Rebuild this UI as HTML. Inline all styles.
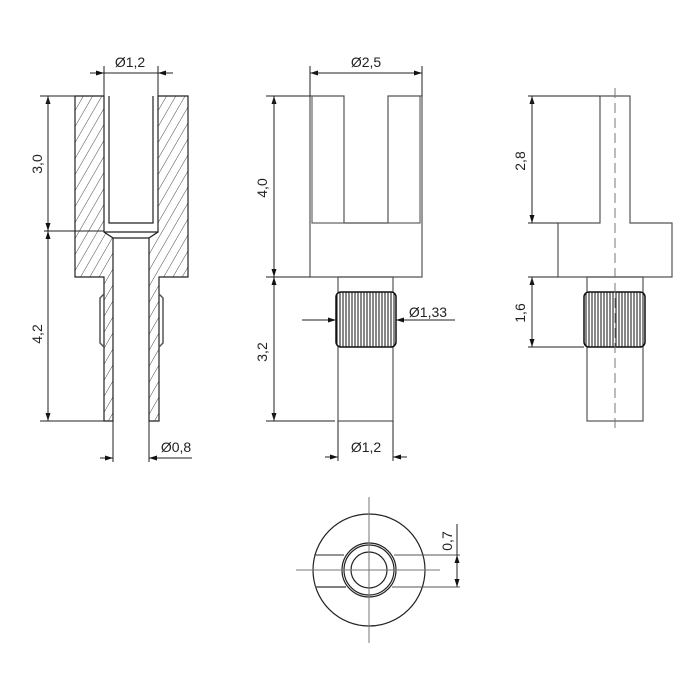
<!DOCTYPE html>
<html><head><style>html,body{margin:0;padding:0;background:#fff}svg{display:block}</style></head>
<body>
<svg width="700" height="700" viewBox="0 0 700 700" xmlns="http://www.w3.org/2000/svg" font-family="Liberation Sans, sans-serif" font-size="14" fill="none" stroke="#222" stroke-width="1.2">
<defs>
<pattern id="h" width="8" height="8" patternUnits="userSpaceOnUse" patternTransform="rotate(30)">
<line x1="0" y1="0" x2="0" y2="8" stroke="#333" stroke-width="0.9"/>
</pattern>
<pattern id="k" width="3" height="10" patternUnits="userSpaceOnUse">
<rect width="3" height="10" fill="#fff" stroke="none"/>
<line x1="1" y1="0" x2="1" y2="10" stroke="#111" stroke-width="1"/>
</pattern>
<marker id="a" viewBox="0 0 8 6" refX="8" refY="3" markerWidth="8" markerHeight="6" orient="auto" markerUnits="userSpaceOnUse"><path d="M0,0.5 L8,3 L0,5.5z" fill="#111" stroke="none"/></marker>
</defs>

<!-- LEFT VIEW (section) -->
<path d="M75,96 L104,96 L104,232 L113,238 L113,421 L104,421 L104,277 L75,277Z" fill="url(#h)"/>
<path d="M158,96 L188,96 L188,277 L159,277 L159,421 L149,421 L149,238 L158,232Z" fill="url(#h)"/>
<path d="M109,96 L109,223 L153,223 L153,96"/>
<line x1="104" y1="232" x2="158" y2="232"/>
<line x1="113" y1="238" x2="149" y2="238"/>
<path d="M104,294 L100,298 L100,343 L104,347" stroke="#555" stroke-width="1.5"/>
<path d="M159,294 L163,298 L163,343 L159,347" stroke="#555" stroke-width="1.5"/>
<line x1="40" y1="96" x2="75" y2="96" stroke-width="1"/>
<line x1="40" y1="421" x2="104" y2="421" stroke-width="1"/>
<line x1="44" y1="231" x2="104" y2="231" stroke-width="1"/>
<line x1="48" y1="231" x2="48" y2="96" stroke-width="1" marker-end="url(#a)"/>
<line x1="48" y1="96" x2="48" y2="231" stroke-width="1" marker-end="url(#a)"/>
<line x1="48" y1="231" x2="48" y2="421" stroke-width="1" marker-end="url(#a)"/>
<line x1="48" y1="421" x2="48" y2="231" stroke-width="1" marker-end="url(#a)"/>
<text x="0" y="0" transform="translate(42,164) rotate(-90)" text-anchor="middle" fill="#222" stroke="none">3,0</text>
<text x="0" y="0" transform="translate(42,334) rotate(-90)" text-anchor="middle" fill="#222" stroke="none">4,2</text>
<line x1="104" y1="66" x2="104" y2="96" stroke-width="1"/>
<line x1="158" y1="66" x2="158" y2="96" stroke-width="1"/>
<line x1="90" y1="73" x2="104" y2="73" stroke-width="1" marker-end="url(#a)"/>
<line x1="173" y1="73" x2="158" y2="73" stroke-width="1" marker-end="url(#a)"/>
<line x1="104" y1="73" x2="158" y2="73" stroke-width="1"/>
<text x="130" y="67" text-anchor="middle" fill="#222" stroke="none">Ø1,2</text>
<line x1="113" y1="421" x2="113" y2="462" stroke-width="1"/>
<line x1="149" y1="421" x2="149" y2="462" stroke-width="1"/>
<line x1="100" y1="458" x2="113" y2="458" stroke-width="1" marker-end="url(#a)"/>
<line x1="192" y1="458" x2="149" y2="458" stroke-width="1" marker-end="url(#a)"/>
<text x="176" y="452" text-anchor="middle" fill="#222" stroke="none">Ø0,8</text>

<!-- MIDDLE VIEW -->
<path d="M310,277 L310,96 L344,96 L344,223 L388,223 L388,96 L422,96 L422,277Z" stroke="#555"/>
<path d="M312,96 L312,223 L420,223 L420,96" stroke="#666"/>
<rect x="338" y="277" width="55" height="144" stroke="#555"/>
<rect x="336" y="292" width="60" height="55" rx="5" fill="url(#k)" stroke="#111" stroke-width="1.5"/>
<line x1="302" y1="320" x2="336" y2="320" stroke-width="1" marker-end="url(#a)"/>
<line x1="455" y1="320" x2="396" y2="320" stroke-width="1" marker-end="url(#a)"/>
<text x="428" y="317" text-anchor="middle" fill="#222" stroke="none">Ø1,33</text>
<line x1="266" y1="96" x2="310" y2="96" stroke-width="1"/>
<line x1="266" y1="277" x2="310" y2="277" stroke-width="1"/>
<line x1="266" y1="421" x2="335" y2="421" stroke-width="1"/>
<line x1="274" y1="277" x2="274" y2="96" stroke-width="1" marker-end="url(#a)"/>
<line x1="274" y1="96" x2="274" y2="277" stroke-width="1" marker-end="url(#a)"/>
<line x1="274" y1="277" x2="274" y2="421" stroke-width="1" marker-end="url(#a)"/>
<line x1="274" y1="421" x2="274" y2="277" stroke-width="1" marker-end="url(#a)"/>
<text x="0" y="0" transform="translate(267,188) rotate(-90)" text-anchor="middle" fill="#222" stroke="none">4,0</text>
<text x="0" y="0" transform="translate(267,352) rotate(-90)" text-anchor="middle" fill="#222" stroke="none">3,2</text>
<line x1="310" y1="66" x2="310" y2="96" stroke-width="1"/>
<line x1="422" y1="66" x2="422" y2="96" stroke-width="1"/>
<line x1="422" y1="73" x2="310" y2="73" stroke-width="1" marker-end="url(#a)"/>
<line x1="310" y1="73" x2="422" y2="73" stroke-width="1" marker-end="url(#a)"/>
<text x="366" y="67" text-anchor="middle" fill="#222" stroke="none">Ø2,5</text>
<line x1="338" y1="421" x2="338" y2="461" stroke-width="1"/>
<line x1="393" y1="421" x2="393" y2="461" stroke-width="1"/>
<line x1="325" y1="457" x2="338" y2="457" stroke-width="1" marker-end="url(#a)"/>
<line x1="407" y1="457" x2="393" y2="457" stroke-width="1" marker-end="url(#a)"/>
<text x="366" y="452" text-anchor="middle" fill="#222" stroke="none">Ø1,2</text>

<!-- RIGHT VIEW -->
<path d="M600,223 L600,96 L630,96 L630,223 L672,223 L672,277 L558,277 L558,223Z" stroke="#555"/>
<rect x="587" y="277" width="56" height="144" stroke="#555"/>
<rect x="584" y="292" width="61" height="55" rx="5" fill="url(#k)" stroke="#111" stroke-width="1.5"/>
<line x1="615" y1="88" x2="615" y2="432" stroke="#777" stroke-width="1" stroke-dasharray="10,5"/>
<line x1="528" y1="96" x2="600" y2="96" stroke-width="1"/>
<line x1="528" y1="223" x2="558" y2="223" stroke-width="1"/>
<line x1="528" y1="277" x2="558" y2="277" stroke-width="1"/>
<line x1="528" y1="347" x2="584" y2="347" stroke-width="1"/>
<line x1="532" y1="223" x2="532" y2="96" stroke-width="1" marker-end="url(#a)"/>
<line x1="532" y1="96" x2="532" y2="223" stroke-width="1" marker-end="url(#a)"/>
<line x1="532" y1="347" x2="532" y2="277" stroke-width="1" marker-end="url(#a)"/>
<line x1="532" y1="277" x2="532" y2="347" stroke-width="1" marker-end="url(#a)"/>
<text x="0" y="0" transform="translate(525,161) rotate(-90)" text-anchor="middle" fill="#222" stroke="none">2,8</text>
<text x="0" y="0" transform="translate(525,313) rotate(-90)" text-anchor="middle" fill="#222" stroke="none">1,6</text>

<!-- BOTTOM VIEW -->
<circle cx="369" cy="570" r="56"/>
<circle cx="369" cy="570" r="27"/>
<circle cx="369" cy="570" r="25"/>
<circle cx="369" cy="570" r="18"/>
<line x1="314" y1="555" x2="344" y2="555" stroke="#555"/>
<line x1="394" y1="555" x2="460" y2="555" stroke="#555" stroke-width="1"/>
<line x1="315" y1="587" x2="346" y2="587" stroke="#555" stroke-width="1.5"/>
<line x1="392" y1="587" x2="460" y2="587" stroke="#555" stroke-width="1"/>
<line x1="296" y1="570" x2="440" y2="570" stroke="#777" stroke-width="1"/>
<line x1="369" y1="497" x2="369" y2="643" stroke="#777" stroke-width="1"/>
<line x1="457" y1="524" x2="457" y2="555" stroke-width="1"/>
<line x1="457" y1="570" x2="457" y2="555" stroke-width="1" marker-end="url(#a)"/>
<line x1="457" y1="570" x2="457" y2="587" stroke-width="1" marker-end="url(#a)"/>
<text x="0" y="0" transform="translate(452,541) rotate(-90)" text-anchor="middle" fill="#222" stroke="none">0,7</text>
</svg>
</body></html>
